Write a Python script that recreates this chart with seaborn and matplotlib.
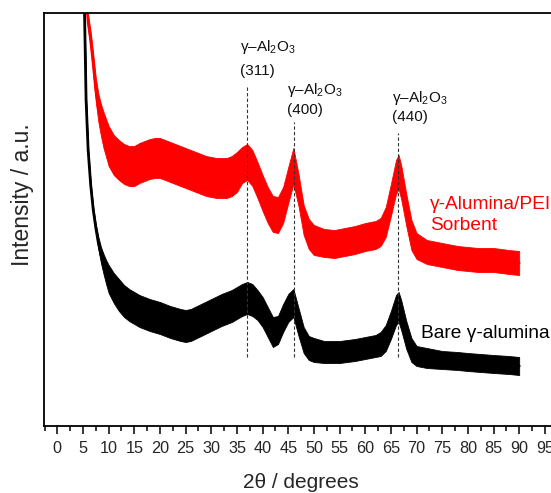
import matplotlib
matplotlib.use("Agg")
import matplotlib.pyplot as plt
from matplotlib.ticker import MultipleLocator
import numpy as np
import pandas as pd
import seaborn as sns

# ---------------- data ----------------
red_2theta = [5.0, 5.5, 6.0, 6.5, 7.0, 7.5, 8.0, 8.5, 9.0, 9.5, 10.0,
              11, 12, 13, 14, 15, 16, 17, 18, 19, 20,
              21, 22, 23, 24, 25, 26, 27, 28, 29, 30,
              31, 32, 33, 34, 35, 36, 37, 38, 39, 40,
              41, 42, 43, 44, 45, 46, 47, 48, 49, 50,
              52, 54, 56, 58, 60, 62,
              63, 64, 65, 66, 66.5, 67, 68, 69, 70,
              72, 75, 78, 80, 82, 85, 88, 90]
red_intensity = [506, 436, 404, 386, 362, 336, 318, 306, 296, 288, 280,
                 271, 266, 262, 260, 260, 263, 265, 267, 268, 268,
                 266, 264, 262, 260, 258, 256, 254, 252, 250, 249,
                 248, 248, 248, 250, 254, 261, 264, 258, 246, 233,
                 221, 212, 211, 221, 241, 260, 236, 206, 192, 186,
                 183, 182, 184, 186, 189, 191,
                 194, 204, 226, 249, 254, 244, 216, 191, 180,
                 174, 171, 168, 167, 166, 166, 164, 163]
red_noise = [6, 6, 7, 8, 10, 12, 14, 16, 18, 19, 20,
             20, 20, 20, 20, 20, 20, 20, 20, 20, 20,
             20, 20, 20, 20, 20, 20, 20, 20, 20, 20,
             20, 20, 20, 20, 20, 18, 18, 18, 18, 18,
             18, 18, 18, 18, 18, 18, 16, 15, 15, 15,
             14, 14, 14, 14, 14, 14,
             14, 15, 16, 17, 17, 17, 16, 15, 13,
             12, 12, 12, 12, 12, 12, 12, 12]

black_2theta = [5.0, 5.3, 5.6, 6.0, 6.5, 7.0, 7.5, 8.0, 8.5, 9.0, 9.5, 10.0,
                11, 12, 13, 14, 15, 16,
                18, 20, 22, 24, 25, 26, 28, 30, 32, 34,
                35, 36, 37, 38, 39, 40, 41, 42, 43, 44, 45, 46, 47, 48, 49, 50,
                52, 55, 58, 60, 62,
                63, 64, 65, 66, 66.5, 67, 68, 69, 70,
                72, 75, 78, 80, 85, 88, 90]
black_intensity = [486, 413, 326, 276, 241, 216, 198, 183, 171, 162, 154, 147,
                   138, 131, 125, 121, 118, 115,
                   111, 108, 104, 101, 100, 101, 106, 111, 116, 120,
                   123, 126, 128, 126, 121, 114, 104, 94, 96, 108, 118, 123, 104, 86, 78, 76,
                   74, 74, 76, 78, 80,
                   82, 88, 101, 116, 119, 111, 91, 76, 70,
                   68, 66, 65, 64, 62, 61, 60]
black_noise = [2, 2, 2, 2, 2, 3, 4, 6, 8, 10, 12, 14,
               15, 16, 16, 16, 16, 16,
               16, 16, 16, 16, 16, 16, 16, 16, 16, 16,
               16, 16, 16, 16, 15, 15, 15, 15, 14, 14, 14, 14, 14, 13, 12, 12,
               11, 11, 11, 11, 11,
               12, 13, 14, 15, 15, 15, 14, 12, 10,
               10, 9, 9, 9, 9, 9, 9]

peak_positions = [37.0, 46.2, 66.4]
peak_labels = ["(311)", "(400)", "(440)"]
series_labels = ["γ-Alumina/PEI\nSorbent", "Bare γ-alumina"]
x_ticks = list(range(0, 100, 5))

# ---------------- style ----------------
sns.set_theme(style="ticks")
plt.rcParams["font.family"] = ["Liberation Sans", "DejaVu Sans"]
plt.rcParams["mathtext.fontset"] = "custom"
plt.rcParams["mathtext.rm"] = "Liberation Sans"
plt.rcParams["mathtext.it"] = "Liberation Sans:italic"

fig = plt.figure(figsize=(5.51, 4.93), dpi=100)
ax = fig.add_axes([44 / 551, 67 / 493, 1 - 44 / 551, 413 / 493])

red_df = pd.DataFrame({"two_theta": red_2theta, "intensity": red_intensity, "noise": red_noise})
black_df = pd.DataFrame({"two_theta": black_2theta, "intensity": black_intensity, "noise": black_noise})

for df, col in [(black_df, "black"), (red_df, "#ff0000")]:
    ax.fill_between(df["two_theta"], df["intensity"] - df["noise"],
                    df["intensity"] + df["noise"], color=col, lw=0.6, alpha=1.0)
    sns.lineplot(data=df, x="two_theta", y="intensity", color=col, lw=2.0, ax=ax,
                 estimator=None, sort=False)

# dashed reference lines
line_tops = [339, 304, 293]
for xp, top in zip(peak_positions, line_tops):
    ax.plot([xp, xp], [69, top], ls=(0, (3, 2)), color="#333333", lw=0.8)

label_pos = [(35.6, 379, 355), (44.75, 336, 316), (65.2, 328, 309)]
for (lx, y1, y2), lab in zip(label_pos, peak_labels):
    ax.text(lx, y1, "γ–Al$_2$O$_3$", fontsize=11, ha="left", va="center", color="#111111")
    ax.text(lx, y2, lab, fontsize=11, ha="left", va="center", color="#111111")

ax.text(72.6, 211, series_labels[0], fontsize=13.8, color="#ff0000", ha="left",
        va="center", linespacing=1.3)
ax.text(70.8, 93, series_labels[1], fontsize=13.8, color="black", ha="left", va="center")

ax.set_xlim(-2.6, 96.2)
ax.set_ylim(0, 413)
ax.set_xticks(x_ticks)
ax.xaxis.set_minor_locator(MultipleLocator(2.5))
ax.set_yticks([])
ax.tick_params(axis="x", which="major", direction="out", length=6, width=1.1,
               labelsize=11.7, pad=5, color="black")
ax.tick_params(axis="x", which="minor", direction="out", length=3.5, width=1.1, color="black")
for s in ["left", "bottom", "top"]:
    ax.spines[s].set_linewidth(1.3)
    ax.spines[s].set_color("black")
ax.spines["right"].set_visible(False)

ax.set_xlabel("2θ / degrees", fontsize=15)
ax.set_ylabel("Intensity / a.u.", fontsize=16.5)
ax.xaxis.set_label_coords(0.506, -0.115)
ax.yaxis.set_label_coords(-0.02, 0.56)

fig.savefig("out.png", dpi=100)
